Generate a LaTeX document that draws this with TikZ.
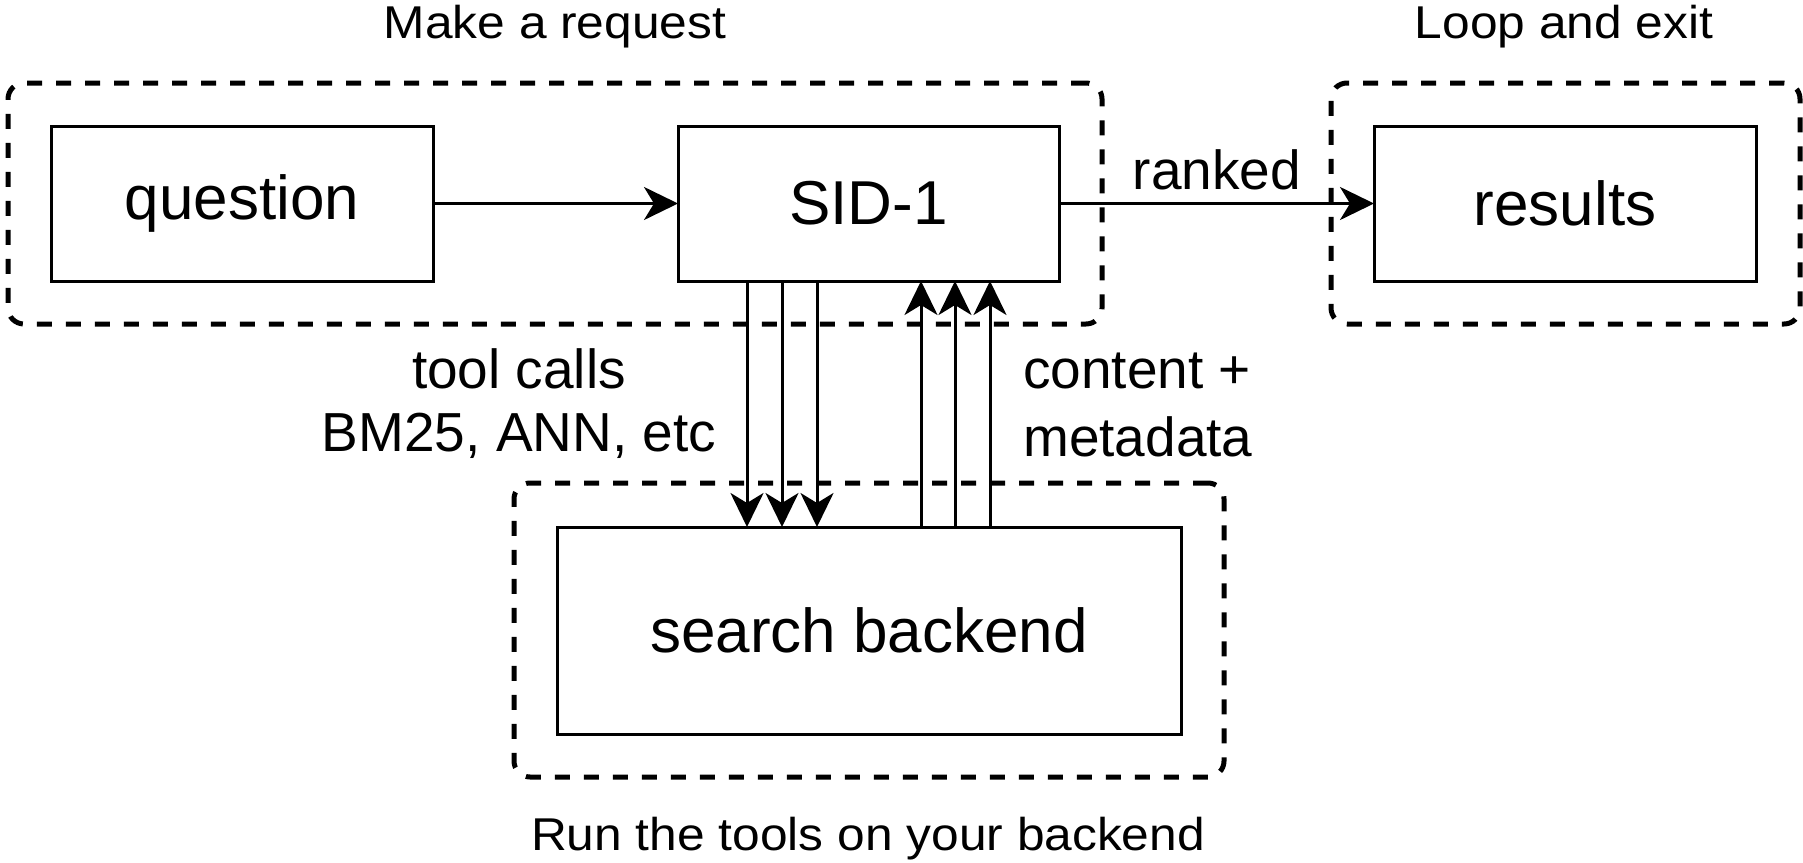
\documentclass[tikz,border=0pt]{standalone}
\usepackage{fontspec}
\setmainfont{Liberation Sans}
\usetikzlibrary{arrows.meta}
\begin{document}
\begin{tikzpicture}[x=1pt,y=-1pt,
  box/.style={draw=black, line width=3pt, inner sep=0pt, outer sep=0pt, font=\fontsize{62}{70}\selectfont},
  group/.style={draw=black, line width=5pt, dash pattern=on 15pt off 14pt, rounded corners=16pt, inner sep=0pt, outer sep=0pt},
  lbl/.style={inner sep=0pt, font=\fontsize{55}{62}\selectfont},
  ttl/.style={inner sep=0pt, anchor=base, font=\fontsize{46}{54}\selectfont},
  arr/.style={line width=3pt, -{Stealth[length=34pt, width=33pt, inset=10pt]}}
]
\useasboundingbox (0,0) rectangle (1803,862);
% groups
\node[group, minimum width=1094pt, minimum height=241pt] (g1) at (555,203.5) {};
\node[group, minimum width=469pt, minimum height=241pt] (g2) at (1565.5,203.5) {};
\node[group, minimum width=710pt, minimum height=294pt] (g3) at (869,630) {};
% boxes
\node[box, minimum width=382pt, minimum height=155pt] (q) at (242,203.5) {question};
\node[box, minimum width=381pt, minimum height=155pt] (sid) at (868.5,203.5) {SID-1};
\node[box, minimum width=382pt, minimum height=155pt] (res) at (1565,203.5) {results};
\node[box, minimum width=624pt, minimum height=207pt] (sb) at (869,630.5) {search backend};
% titles
\node[ttl] (t1) at (555,38) {\scalebox{1.08}[1]{Make a request}};
\node[ttl] (t2) at (1564,38) {\scalebox{1.08}[1]{Loop and exit}};
\node[ttl] (t3) at (868,850) {\scalebox{1.08}[1]{Run the tools on your backend}};
% labels
\node[lbl] (l1) at (519,369) {tool calls};
\node[lbl] (l2) at (519,436) {BM25, ANN, etc};
\node[lbl, anchor=west] (l3) at (1023,371) {content +};
\node[lbl, anchor=west] (l4) at (1023,437) {metadata};
\node[lbl] (l5) at (1217,170) {ranked};
% connectors
\draw[arr] (q.east) -- (sid.west);
\draw[arr] (sid.east) -- (res.west);
\foreach \x in {747,782,817}{
  \draw[arr] (sid.south -| \x,0) -- (sb.north -| \x,0);
}
\foreach \x in {921,955,990}{
  \draw[arr] (sb.north -| \x,0) -- (sid.south -| \x,0);
}
\end{tikzpicture}
\end{document}
